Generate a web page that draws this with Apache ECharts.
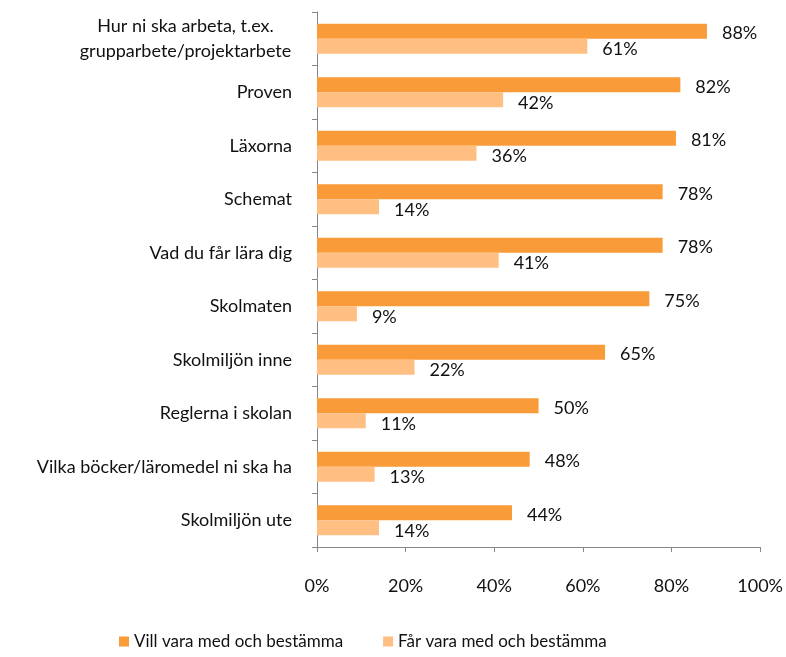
<html>
<head>
<meta charset="utf-8">
<title>Vill och får vara med och bestämma</title>
<script src="https://cdn.jsdelivr.net/npm/echarts@6/dist/echarts.min.js"></script>
<style>
  body { margin: 0; background: #fff; }
  #container { width: 786px; height: 657px; }
</style>
</head>
<body>
<div id="container"></div>
<script type="text/javascript">
var categories = ['Hur ni ska arbeta, t.ex.\ngrupparbete/projektarbete', 'Proven', 'Läxorna', 'Schemat',
  'Vad du får lära dig', 'Skolmaten', 'Skolmiljön inne', 'Reglerna i skolan',
  'Vilka böcker/läromedel ni ska ha', 'Skolmiljön ute'];
var villValues = [88, 82, 81, 78, 78, 75, 65, 50, 48, 44];
var farValues = [61, 42, 36, 14, 41, 9, 22, 11, 13, 14];
var seriesNames = ['Vill vara med och bestämma', 'Får vara med och bestämma'];

var font = 'Lato, "Open Sans", sans-serif';
var dom = document.getElementById("container");
var myChart = echarts.init(dom);
var option = {
  textStyle: { fontFamily: font },
  legend: {
    bottom: 2,
    left: 114,
    itemWidth: 10,
    itemHeight: 10,
    itemGap: 40,
    icon: 'rect',
    textStyle: { fontSize: 17, color: '#111', fontFamily: font }
  },
  grid: { left: 317, right: 25, top: 12, bottom: 110 },
  xAxis: {
    type: 'value',
    min: 0,
    max: 100,
    interval: 20,
    axisLine: { show: true, lineStyle: { color: '#868686' } },
    axisTick: { show: true, length: 5, lineStyle: { color: '#868686' } },
    splitLine: { show: false },
    axisLabel: { formatter: '{value}%', fontSize: 18, color: '#111', margin: 30, fontFamily: font }
  },
  yAxis: {
    type: 'category',
    data: categories,
    inverse: true,
    axisLine: { show: true, lineStyle: { color: '#868686' } },
    axisTick: { show: true, length: 5, lineStyle: { color: '#868686' } },
    axisLabel: {
      fontSize: 18, color: '#111', margin: 25, lineHeight: 25, fontFamily: font,
      formatter: function (v) {
        if (v.indexOf('\n') < 0) return v;
        return v.split('\n').map(function (s) { return '{c|' + s + '}'; }).join('\n');
      },
      rich: { c: { width: 213, align: 'center', fontSize: 18, lineHeight: 25, color: '#111', fontFamily: font } }
    }
  },
  series: [
    {
      name: seriesNames[0],
      type: 'bar',
      data: villValues,
      barWidth: 15,
      barGap: '0%',
      itemStyle: { color: '#F99B38' },
      label: { show: true, position: 'right', distance: 15, offset: [0, 2], formatter: '{c}%', fontSize: 18, color: '#111', fontFamily: font }
    },
    {
      name: seriesNames[1],
      type: 'bar',
      data: farValues,
      barWidth: 15,
      barGap: '0%',
      itemStyle: { color: '#FFBE82' },
      label: { show: true, position: 'right', distance: 15, offset: [0, 3], formatter: '{c}%', fontSize: 18, color: '#111', fontFamily: font }
    }
  ]
};
if (option && typeof option === 'object') {
  myChart.setOption(option);
}
</script>
</body>
</html>
